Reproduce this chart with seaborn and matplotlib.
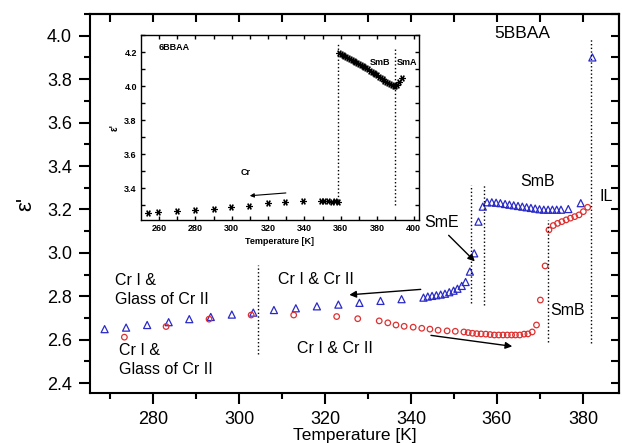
import matplotlib
matplotlib.use("Agg")
import matplotlib.pyplot as plt
import seaborn as sns
from matplotlib.ticker import MultipleLocator

# 5BBAA - blue triangles
tri_T = [268.7, 273.7, 278.6, 283.6, 288.4, 293.4, 298.3, 303.3, 308.1, 313.2,
         318.1, 323.1, 328.0, 332.9, 337.8, 342.9, 343.9, 344.9, 345.9, 346.9,
         347.9, 348.9, 349.9, 350.8, 351.8, 352.7, 353.7, 354.7, 355.7, 356.7,
         357.7, 358.8, 359.8, 360.8, 361.9, 362.9, 363.9, 364.9, 365.9, 366.9,
         367.9, 368.9, 369.9, 370.9, 371.9, 372.9, 373.9, 374.9, 376.6, 379.5,
         382.2]
tri_eps = [2.649, 2.656, 2.668, 2.681, 2.695, 2.705, 2.716, 2.725, 2.737, 2.745,
           2.754, 2.762, 2.770, 2.779, 2.787, 2.794, 2.799, 2.802, 2.805, 2.808,
           2.812, 2.819, 2.826, 2.835, 2.848, 2.866, 2.914, 2.998, 3.144, 3.213,
           3.233, 3.233, 3.231, 3.229, 3.225, 3.222, 3.219, 3.216, 3.213, 3.210,
           3.207, 3.204, 3.201, 3.199, 3.199, 3.199, 3.199, 3.199, 3.202, 3.229,
           3.900]

# 5BBAA - red circles
circ_T = [273.3, 283.0, 293.0, 302.8, 312.7, 322.7, 327.6, 332.6, 334.6, 336.5,
          338.4, 340.5, 342.5, 344.4, 346.3, 348.4, 350.3, 352.3, 353.3, 354.3,
          355.3, 356.3, 357.4, 358.4, 359.4, 360.4, 361.4, 362.4, 363.4, 364.3,
          365.3, 366.3, 367.2, 368.2, 369.2, 370.1, 371.2, 372.1, 373.1, 374.1,
          375.1, 376.1, 377.1, 378.1, 379.1, 380.1, 381.1]
circ_eps = [2.612, 2.661, 2.695, 2.714, 2.714, 2.707, 2.697, 2.687, 2.678, 2.668,
            2.662, 2.658, 2.653, 2.649, 2.644, 2.641, 2.639, 2.636, 2.633, 2.630,
            2.628, 2.627, 2.626, 2.624, 2.622, 2.622, 2.622, 2.622, 2.622, 2.622,
            2.622, 2.626, 2.627, 2.636, 2.668, 2.783, 2.940, 3.106, 3.126, 3.136,
            3.144, 3.152, 3.160, 3.167, 3.175, 3.190, 3.210]

# 6BBAA inset - asterisks
ins_T = [253.8, 259.6, 269.8, 279.9, 290.0, 299.5, 309.6, 319.7, 329.4, 339.0,
         349.0, 351.0, 353.0, 355.0, 357.0, 358.3,
         359.0, 360.0, 361.0, 362.0, 363.0, 364.0, 365.0, 366.0, 367.0, 368.0,
         369.0, 370.0, 371.0, 372.0, 373.0, 374.0, 375.0, 376.0, 377.0, 378.0,
         379.0, 380.0, 381.0, 382.0, 383.0, 384.0, 385.0, 386.0, 387.0, 388.0,
         389.0, 390.0, 391.0, 392.0, 393.5]
ins_eps = [3.253, 3.259, 3.265, 3.272, 3.280, 3.290, 3.298, 3.312, 3.321, 3.325,
           3.323, 3.324, 3.323, 3.322, 3.323, 3.322,
           4.192, 4.186, 4.180, 4.175, 4.169, 4.163, 4.157, 4.152, 4.146, 4.140,
           4.134, 4.128, 4.122, 4.117, 4.111, 4.105, 4.098, 4.091, 4.084, 4.077,
           4.070, 4.063, 4.056, 4.048, 4.040, 4.032, 4.024, 4.017, 4.010, 4.004,
           3.999, 3.998, 4.008, 4.025, 4.048]

blue = '#2a2ac8'
red = '#de3030'

sns.set_style("ticks")
plt.rcParams['font.family'] = ['Liberation Sans', 'DejaVu Sans']
plt.rcParams['axes.linewidth'] = 1.5
for key in ['axes.edgecolor', 'xtick.color', 'ytick.color', 'text.color',
            'axes.labelcolor']:
    plt.rcParams[key] = 'black'

fig = plt.figure(figsize=(6.22, 4.43), dpi=100)
ax = fig.add_axes([0.1447, 0.1129, 0.8505, 0.8555])

sns.scatterplot(x=tri_T, y=tri_eps, marker='^', s=26, facecolors='none',
                edgecolor=blue, linewidth=0.9, ax=ax)
sns.scatterplot(x=circ_T, y=circ_eps, marker='o', s=16, facecolors='none',
                edgecolor=red, linewidth=0.9, ax=ax)

# transition lines
for t, lo, hi in [(304.5, 2.535, 2.945), (353.9, 2.768, 3.313),
                  (357.0, 2.76, 3.313), (371.8, 2.592, 3.152),
                  (381.9, 2.587, 3.984)]:
    ax.vlines(t, lo, hi, colors='k', linestyles=':', linewidth=1)

ax.set_xlim(265.3, 388.4)
ax.set_ylim(2.355, 4.1)
ax.xaxis.set_major_locator(MultipleLocator(20))
ax.xaxis.set_minor_locator(MultipleLocator(10))
ax.yaxis.set_major_locator(MultipleLocator(0.2))
ax.yaxis.set_minor_locator(MultipleLocator(0.1))
ax.yaxis.set_major_formatter(matplotlib.ticker.FormatStrFormatter('%.1f'))
ax.tick_params(which='major', length=8, width=1.5, labelsize=13, pad=5)
ax.tick_params(which='minor', length=4, width=1.5)

top = ax.secondary_xaxis('top')
top.xaxis.set_major_locator(MultipleLocator(10))
top.tick_params(direction='in', length=6, width=1.5, labeltop=False)
right = ax.secondary_yaxis('right')
right.yaxis.set_major_locator(MultipleLocator(0.1))
right.tick_params(direction='in', length=6, width=1.5, labelright=False)

ax.set_xlabel('Temperature [K]', fontsize=12.5, labelpad=0)
ax.set_ylabel("ε'", fontsize=16, labelpad=8)

txt = dict(fontsize=11.5, color='k')
ax.text(365.8, 4.008, '5BBAA', ha='center', va='center', fontsize=12.5)
ax.text(369.5, 3.327, 'SmB', ha='center', va='center', **txt)
ax.text(385.3, 3.258, 'IL', ha='center', va='center', **txt)
ax.text(347.2, 3.138, 'SmE', ha='center', va='center', **txt)
ax.text(376.5, 2.733, 'SmB', ha='center', va='center', **txt)
ax.text(309.1, 2.876, 'Cr I & Cr II', ha='left', va='center', **txt)
ax.text(313.5, 2.562, 'Cr I & Cr II', ha='left', va='center', **txt)
ax.text(271.2, 2.829, 'Cr I &\nGlass of Cr II', ha='left', va='center',
        linespacing=1.3, **txt)
ax.text(272.1, 2.506, 'Cr I &\nGlass of Cr II', ha='left', va='center',
        linespacing=1.3, **txt)

arrow = dict(arrowstyle='-|>', color='k', lw=1, mutation_scale=10)
ax.annotate('', xy=(355.3, 2.952), xytext=(348.3, 3.090), arrowprops=arrow)
ax.annotate('', xy=(325.0, 2.806), xytext=(342.9, 2.833), arrowprops=arrow)
ax.annotate('', xy=(364.2, 2.568), xytext=(344.0, 2.622), arrowprops=arrow)

# inset: 6BBAA
ins = fig.add_axes([0.2267, 0.5034, 0.4469, 0.4176])
sns.scatterplot(x=ins_T, y=ins_eps, marker=(6, 2, 90), s=16, color='k',
                edgecolor='k', linewidth=0.9, ax=ins)
ins.vlines(358.6, 3.31, 4.255, colors='k', linestyles=':', linewidth=1)
ins.vlines(390.0, 3.30, 4.218, colors='k', linestyles=':', linewidth=1)
ins.set_xlim(250.1, 403)
ins.set_ylim(3.214, 4.30)
ins.xaxis.set_major_locator(MultipleLocator(20))
ins.xaxis.set_minor_locator(MultipleLocator(10))
ins.yaxis.set_major_locator(MultipleLocator(0.2))
ins.yaxis.set_minor_locator(MultipleLocator(0.1))
ins.yaxis.set_major_formatter(matplotlib.ticker.FormatStrFormatter('%.1f'))
for sp in ins.spines.values():
    sp.set_linewidth(1)
ins.tick_params(axis='x', which='both', direction='in', top=True,
                length=3, width=1)
ins.tick_params(axis='y', which='both', direction='in', right=True,
                length=3, width=1)
ins.tick_params(which='major', labelsize=6.5, pad=3)
for lab in ins.get_xticklabels() + ins.get_yticklabels():
    lab.set_fontweight('bold')
ins.set_xlabel('Temperature [K]', fontsize=6.5, fontweight='bold', labelpad=3)
ins.set_ylabel("ε'", fontsize=7, fontweight='bold', labelpad=3)

small = dict(fontsize=6.5, fontweight='bold', color='k')
ins.text(260.0, 4.225, '6BBAA', ha='left', va='center', **small)
ins.text(381.8, 4.139, 'SmB', ha='center', va='center', **small)
ins.text(396.5, 4.139, 'SmA', ha='center', va='center', **small)
ins.text(307.4, 3.49, 'Cr', ha='center', va='center', **small)
ins.annotate('', xy=(308.4, 3.355), xytext=(331.3, 3.374),
             arrowprops=dict(arrowstyle='-|>', color='k', lw=0.8,
                             mutation_scale=6))

fig.savefig('out.png', dpi=100)
